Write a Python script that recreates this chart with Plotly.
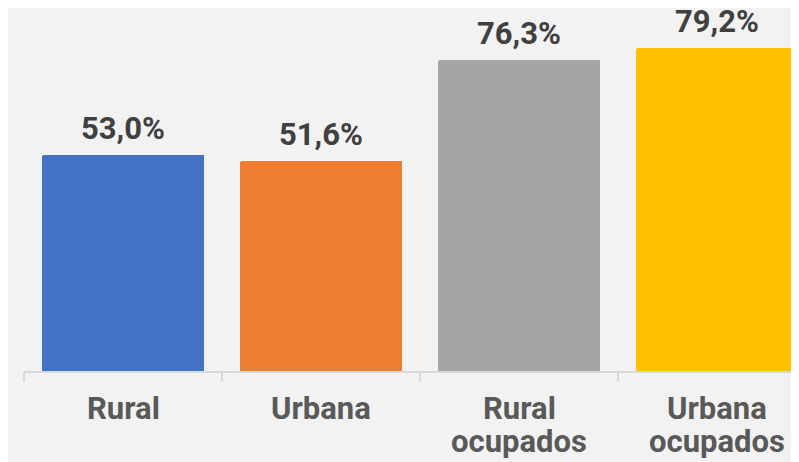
import plotly.graph_objects as go

categories = ["Rural", "Urbana", "Rural ocupados", "Urbana ocupados"]
label_lines = [["Rural"], ["Urbana"], ["Rural", "ocupados"], ["Urbana", "ocupados"]]
values = [53.0, 51.6, 76.3, 79.2]
value_labels = ["53,0%", "51,6%", "76,3%", "79,2%"]
colors = ["#4472C4", "#ED7D31", "#A5A5A5", "#FFC000"]

FONT = "Roboto"

fig = go.Figure()
fig.add_trace(go.Bar(
    x=categories, y=values,
    marker=dict(color=colors, line=dict(width=0), cornerradius=2),
    width=0.818,
    hoverinfo="skip",
))

for c, v, t in zip(categories, values, value_labels):
    fig.add_annotation(
        x=c, y=v, text=t, showarrow=False,
        yanchor="bottom", yshift=6,
        font=dict(family=FONT, size=31, color="#404040", weight="bold"),
    )

for c, lines in zip(categories, label_lines):
    for i, line in enumerate(lines):
        fig.add_annotation(
            x=c, xref="x", y=0, yref="paper", text=line, showarrow=False,
            yanchor="top", yshift=-17 - 33 * i,
            font=dict(family=FONT, size=31, color="#595959", weight="bold"),
        )

fig.update_layout(
    width=791, height=454,
    margin=dict(l=16, r=0, t=0, b=91),
    paper_bgcolor="#F2F2F2", plot_bgcolor="#F2F2F2",
    showlegend=False,
    bargap=0,
)
fig.update_xaxes(
    type="category",
    range=[-0.5, 3.414],
    showline=True, linecolor="#D9D9D9", linewidth=2,
    ticks="outside", tickson="boundaries", ticklen=9, tickwidth=2, tickcolor="#D9D9D9",
    showticklabels=False,
    showgrid=False, zeroline=False,
)
fig.update_yaxes(
    range=[0, 89.08], visible=False, showgrid=False, zeroline=False,
)

fig.write_html("out.html")
